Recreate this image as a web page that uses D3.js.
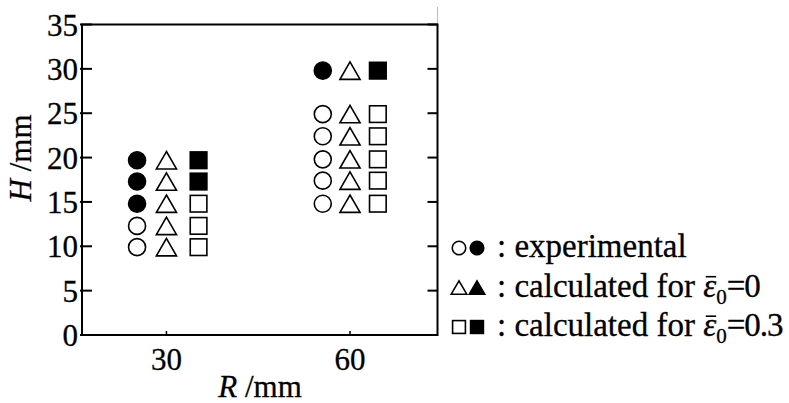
<!DOCTYPE html>
<html><head><meta charset="utf-8">
<script src="https://cdn.jsdelivr.net/npm/d3@7"></script>
<style>
body{margin:0;background:#fff;}
</style></head>
<body>
<script>
// ---- data ----
const yTicks = [0, 5, 10, 15, 20, 25, 30, 35];
const xTicks = [30, 60];
// H values (mm) for each group of markers
const H_R30 = [9.9, 12.3, 14.8, 17.3, 19.7];
const H_R60 = [14.8, 17.4, 19.8, 22.4, 24.9, 29.8];
// x positions (R axis units) where each marker column sits
const expR = [25.2, 55.55];
const calc0R = [30, 60];
const calc03R = [35.25, 64.55];
// filled flags (1 = filled)
const expFilled30 = [0, 0, 1, 1, 1];
const expFilled60 = [0, 0, 0, 0, 0, 1];
const calc0Filled30 = [0, 0, 0, 0, 0];
const calc0Filled60 = [0, 0, 0, 0, 0, 0];
const calc03Filled30 = [0, 0, 0, 1, 1];
const calc03Filled60 = [0, 0, 0, 0, 0, 1];
const legendLabels = ["experimental", "calculated for", "calculated for"];
const legendEps = [null, "0", "0.3"];

// ---- layout ----
const W = 789, H = 403;
const FONT = "Liberation Serif";
const plot = {left: 82, right: 437.5, top: 24.5, bottom: 335};
const xDomain = [16.2, 74.3];

const svg = d3.select("body").append("svg").attr("width", W).attr("height", H);

const x = d3.scaleLinear().domain(xDomain).range([plot.left, plot.right]);
const y = d3.scaleLinear().domain([0, 35]).range([plot.bottom, plot.top]);

function txt(sel) {
  return sel.append("text").style("font-family", FONT).attr("fill", "#000")
    .attr("stroke", "#000").attr("stroke-width", 0.3);
}

// frame
const g = svg.append("g");
g.append("line").attr("x1", plot.right).attr("x2", plot.right).attr("y1", 7).attr("y2", plot.top)
  .attr("stroke", "#bbb").attr("stroke-width", 1);
g.append("path")
  .attr("d", `M${plot.left},${plot.top}H${plot.right}V${plot.bottom}H${plot.left}Z`)
  .attr("fill", "none").attr("stroke", "#000").attr("stroke-width", 2);

// y ticks (inward, both sides) + labels
yTicks.forEach(t => {
  g.append("line").attr("x1", plot.left - 2).attr("x2", plot.left + 10)
    .attr("y1", y(t)).attr("y2", y(t)).attr("stroke", "#000").attr("stroke-width", 2);
  g.append("line").attr("x1", plot.right - 10).attr("x2", plot.right)
    .attr("y1", y(t)).attr("y2", y(t)).attr("stroke", "#000").attr("stroke-width", 2);
  txt(g).attr("x", 78).attr("y", y(t) + 11).attr("text-anchor", "end")
    .attr("font-size", 31).text(t);
});
xTicks.forEach(t => {
  g.append("line").attr("x1", x(t)).attr("x2", x(t)).attr("y1", plot.bottom).attr("y2", plot.bottom - 4)
    .attr("stroke", "#000").attr("stroke-width", 1.5);
  txt(g).attr("x", x(t)).attr("y", 370).attr("text-anchor", "middle")
    .attr("font-size", 31).text(t);
});

// axis titles
const xt = txt(svg).attr("x", 260).attr("y", 397).attr("text-anchor", "middle").attr("font-size", 31);
xt.append("tspan").attr("font-style", "italic").text("R");
xt.append("tspan").text(" /mm");
const yt = txt(svg).attr("transform", "translate(31,158) rotate(-90)").attr("text-anchor", "middle").attr("font-size", 31);
yt.append("tspan").attr("font-style", "italic").text("H");
yt.append("tspan").text(" /mm");

// marker drawing
function marker(sel, shape, cx, cy, filled, size) {
  const fill = filled ? "#000" : "#fff";
  if (shape === "circle") {
    sel.append("circle").attr("cx", cx).attr("cy", cy).attr("r", size / 2)
      .attr("fill", fill).attr("stroke", "#000").attr("stroke-width", 1.6);
  } else if (shape === "triangle") {
    const s = size * 1.15, h = s * Math.sqrt(3) / 2;
    sel.append("path")
      .attr("d", `M${cx},${cy - h / 2}L${cx + s / 2},${cy + h / 2}L${cx - s / 2},${cy + h / 2}Z`)
      .attr("fill", fill).attr("stroke", "#000").attr("stroke-width", 1.6);
  } else {
    const s = size * 0.95;
    sel.append("rect").attr("x", cx - s / 2).attr("y", cy - s / 2).attr("width", s).attr("height", s)
      .attr("fill", fill).attr("stroke", "#000").attr("stroke-width", 1.6);
  }
}

const mg = svg.append("g");
const groups = [
  {H: H_R30, idx: 0, exp: expFilled30, c0: calc0Filled30, c3: calc03Filled30},
  {H: H_R60, idx: 1, exp: expFilled60, c0: calc0Filled60, c3: calc03Filled60}
];
groups.forEach(gr => {
  gr.H.forEach((h, i) => {
    marker(mg, "circle", x(expR[gr.idx]), y(h), gr.exp[i], 17);
    marker(mg, "triangle", x(calc0R[gr.idx]), y(h), gr.c0[i], 17.5);
    marker(mg, "square", x(calc03R[gr.idx]), y(h), gr.c3[i], 17.5);
  });
});

// legend
const lg = svg.append("g");
const legY = [248, 287.5, 327];
const shapes = ["circle", "triangle", "square"];
const LFS = 33;
const LX = 497;
legY.forEach((ly, i) => {
  marker(lg, shapes[i], 459, ly, 0, 13.5);
  marker(lg, shapes[i], 477, ly, 1, 13.5);
  const t = txt(lg).attr("x", LX).attr("y", ly + 9).attr("font-size", LFS);
  const prefix = ": " + legendLabels[i];
  t.append("tspan").text(prefix);
  if (legendEps[i] !== null) {
    t.append("tspan").text(" ");
    t.append("tspan").attr("font-style", "italic").text("\u03B5");
    t.append("tspan").attr("font-size", 21).attr("dy", 7).text("0");
    t.append("tspan").attr("dy", -7).attr("letter-spacing", -1).text("=" + legendEps[i]);
    const n = prefix.length + 1;
    const node = t.node();
    const x0 = LX + node.getSubStringLength(0, n);
    const w = node.getSubStringLength(n, 1);
    lg.append("line").attr("x1", x0 + w * 0.2).attr("x2", x0 + w * 1.0)
      .attr("y1", ly + 9 - LFS * 0.6).attr("y2", ly + 9 - LFS * 0.6)
      .attr("stroke", "#000").attr("stroke-width", 1.6);
  }
});
</script>
</body></html>
